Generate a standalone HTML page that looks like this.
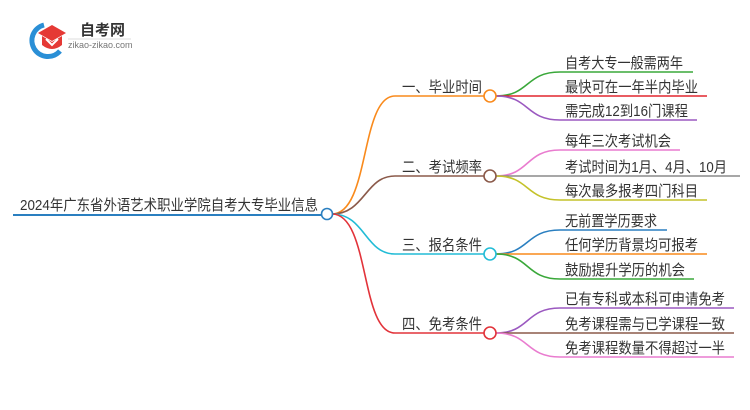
<!DOCTYPE html>
<html><head><meta charset="utf-8"><style>
html,body{margin:0;padding:0;background:#fff;width:750px;height:410px;overflow:hidden}
text{font-family:"Liberation Sans","Noto Sans CJK SC",sans-serif;font-size:15px;fill:#333}
</style></head><body>
<svg width="750" height="410" viewBox="0 0 750 410" xmlns="http://www.w3.org/2000/svg">
<!-- logo -->
<g transform="translate(0,-13)">
<path d="M44 38 A16 16 0 1 0 60 64" fill="none" stroke="#2a8fd6" stroke-width="5"/>
<polygon points="38,46 52,38 66,46 52,54" fill="#e53935"/>
<path d="M42 49 L42 58 Q52 66 62 58 L62 49 L52 55 Z" fill="#e53935"/>
<path d="M46 52 L52 58 L58 52" fill="none" stroke="#fff" stroke-width="2"/>
<text x="80" y="48" style="font-size:15px;font-weight:bold;fill:#333">自考网</text>
<line x1="68" y1="52" x2="131" y2="52" stroke="#ddd" stroke-width="1"/>
<text x="68" y="61" style="font-size:9px;fill:#777">zikao-zikao.com</text>
</g>

<!-- root -->
<line x1="13" y1="215" x2="322" y2="215" stroke="#2a7fc0" stroke-width="2"/>
<text x="20" y="210" textLength="298" lengthAdjust="spacingAndGlyphs">2024年广东省外语艺术职业学院自考大专毕业信息</text>

<g fill="none" stroke-width="1.6">
<path d="M332 214 C370 214 360 96 395 96 L485 96" stroke="#f98a1c"/>
<path d="M332 214 C365 214 365 176 395 176 L485 176" stroke="#8b5a4a"/>
<path d="M332 214 C365 214 365 254 395 254 L485 254" stroke="#22bcd6"/>
<path d="M332 214 C370 214 360 333 395 333 L485 333" stroke="#e2333a"/>

<path d="M496 96 C530 96 525 72 560 72 L693 72" stroke="#3aa83a"/>
<path d="M496 96 L707 96" stroke="#e2262e"/>
<path d="M496 96 C530 96 525 120 560 120 L697 120" stroke="#9b59c0"/>

<path d="M496 176 C530 176 525 150 560 150 L680 150" stroke="#e97ccf"/>
<path d="M496 176 L740 176" stroke="#8a8a8a"/>
<path d="M496 176 C530 176 525 200 560 200 L707 200" stroke="#c4c22a"/>

<path d="M496 254 C530 254 525 230 560 230 L667 230" stroke="#2a7fc0"/>
<path d="M496 254 L707 254" stroke="#f98a1c"/>
<path d="M496 254 C530 254 525 279 560 279 L694 279" stroke="#3aa83a"/>

<path d="M496 333 C530 333 525 308 560 308 L734 308" stroke="#9b59c0"/>
<path d="M496 333 L734 333" stroke="#8b5a4a"/>
<path d="M496 333 C530 333 525 357 560 357 L734 357" stroke="#e97ccf"/>
</g>

<circle cx="327" cy="214" r="5.5" fill="#fff" stroke="#2a7fc0" stroke-width="1.6"/>
<circle cx="490" cy="96" r="6" fill="#fff" stroke="#f98a1c" stroke-width="1.6"/>
<circle cx="490" cy="176" r="6" fill="#fff" stroke="#8b5a4a" stroke-width="1.6"/>
<circle cx="490" cy="254" r="6" fill="#fff" stroke="#22bcd6" stroke-width="1.6"/>
<circle cx="490" cy="333" r="6" fill="#fff" stroke="#e2333a" stroke-width="1.6"/>

<g>
<text x="402" y="92" textLength="80" lengthAdjust="spacingAndGlyphs">一、毕业时间</text>
<text x="402" y="172" textLength="80" lengthAdjust="spacingAndGlyphs">二、考试频率</text>
<text x="402" y="250" textLength="80" lengthAdjust="spacingAndGlyphs">三、报名条件</text>
<text x="402" y="329" textLength="80" lengthAdjust="spacingAndGlyphs">四、免考条件</text>

<text x="565" y="68" textLength="118" lengthAdjust="spacingAndGlyphs">自考大专一般需两年</text>
<text x="565" y="92" textLength="133" lengthAdjust="spacingAndGlyphs">最快可在一年半内毕业</text>
<text x="565" y="116" textLength="123" lengthAdjust="spacingAndGlyphs">需完成12到16门课程</text>
<text x="565" y="146" textLength="106" lengthAdjust="spacingAndGlyphs">每年三次考试机会</text>
<text x="565" y="172" textLength="162" lengthAdjust="spacingAndGlyphs">考试时间为1月、4月、10月</text>
<text x="565" y="196" textLength="133" lengthAdjust="spacingAndGlyphs">每次最多报考四门科目</text>
<text x="565" y="226" textLength="92" lengthAdjust="spacingAndGlyphs">无前置学历要求</text>
<text x="565" y="250" textLength="133" lengthAdjust="spacingAndGlyphs">任何学历背景均可报考</text>
<text x="565" y="275" textLength="120" lengthAdjust="spacingAndGlyphs">鼓励提升学历的机会</text>
<text x="565" y="304" textLength="160" lengthAdjust="spacingAndGlyphs">已有专科或本科可申请免考</text>
<text x="565" y="329" textLength="160" lengthAdjust="spacingAndGlyphs">免考课程需与已学课程一致</text>
<text x="565" y="353" textLength="160" lengthAdjust="spacingAndGlyphs">免考课程数量不得超过一半</text>
</g>
</svg>
</body></html>
